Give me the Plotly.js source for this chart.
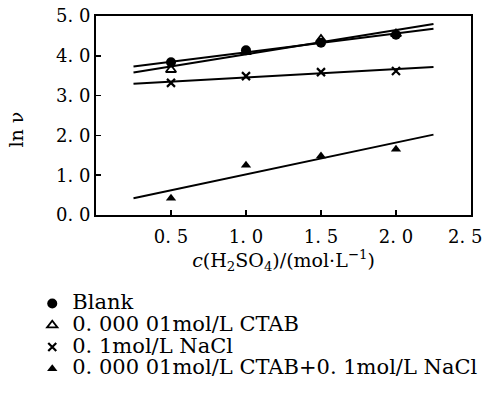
<!DOCTYPE html>
<html><head><meta charset="utf-8">
<script src="https://cdn.plot.ly/plotly-3.0.1.min.js"></script>
<style>html,body{margin:0;padding:0;background:#fff}</style>
</head><body><div id="chart" style="width:487px;height:397px"></div>
<script>
// H2SO4 concentration (mol/L) and measured ln(v) for each solution
const conc = [0.5, 1.0, 1.5, 2.0];
const lnvBlank = [3.84, 4.14, 4.33, 4.53];
const lnvCtab = [3.65, 4.10, 4.41, 4.55];
const lnvNacl = [3.32, 3.49, 3.59, 3.62];
const lnvCtabNacl = [0.42, 1.25, 1.48, 1.65];

// straight-line fits, drawn between c = 0.25 and c = 2.25
const fitConc = [0.25, 2.25];
const fitBlank = [3.73, 4.68];
const fitCtab = [3.58, 4.80];
const fitNacl = [3.30, 3.72];
const fitCtabNacl = [0.42, 2.02];

const seriesNames = ['Blank', '0. 000 01mol/L CTAB', '0. 1mol/L NaCl', '0. 000 01mol/L CTAB+0. 1mol/L NaCl'];
const xTickVals = [0.5, 1.0, 1.5, 2.0, 2.5];
const xTickText = ['0. 5', '1. 0', '1. 5', '2. 0', '2. 5'];
const yTickVals = [0, 1, 2, 3, 4, 5];
const yTickText = ['0. 0', '1. 0', '2. 0', '3. 0', '4. 0', '5. 0'];

const FONT = 'DejaVu Serif, Liberation Serif, serif';
const big = s => '<span style="font-size:21px">' + s + '</span>';

const fitLine = (y) => ({
  x: fitConc, y: y, mode: 'lines', showlegend: false, hoverinfo: 'skip',
  line: {color: '#000', width: 2}
});

const pts = (y, name, symbol, size, lw) => ({
  x: conc, y: y, mode: 'markers', name: big(name),
  marker: {symbol: symbol, size: size, color: '#000', line: {color: '#000', width: lw}}
});

const data = [
  fitLine(fitBlank), fitLine(fitCtab), fitLine(fitNacl), fitLine(fitCtabNacl),
  pts(lnvBlank, seriesNames[0], 'circle', 10, 0),
  pts(lnvCtab, seriesNames[1], 'triangle-up-open', 9, 1.8),
  pts(lnvNacl, seriesNames[2], 'x-thin-open', 8, 2.2),
  pts(lnvCtabNacl, seriesNames[3], 'triangle-up', 9, 0)
];

const lastX = xTickVals.length - 1;

const layout = {
  width: 487, height: 397,
  margin: {l: 96, r: 16, t: 16, b: 178},
  paper_bgcolor: '#fff', plot_bgcolor: '#fff',
  font: {family: FONT, color: '#000', size: 18},
  showlegend: true,
  legend: {
    x: -0.17, y: -0.365, xanchor: 'left', yanchor: 'top',
    font: {family: FONT, size: 14.4, color: '#000'},
    bgcolor: 'rgba(0,0,0,0)', borderwidth: 0, itemwidth: 30
  },
  xaxis: {
    range: [0, 2.5001], tickvals: xTickVals,
    // the end label is drawn separately, nudged left to stay on the page
    ticktext: xTickText.map((t, i) => i === lastX ? '' : t),
    ticks: 'inside', ticklen: 5, tickwidth: 1.5, tickcolor: '#000',
    showline: true, linecolor: '#000', linewidth: 2, mirror: true,
    showgrid: false, zeroline: false, ticklabelstandoff: 4,
    tickfont: {family: FONT, size: 18},
    title: {text: '<i>c</i>(H<sub>2</sub>SO<sub>4</sub>)/(mol·L<sup>−1</sup>)', font: {family: FONT, size: 19}, standoff: 7}
  },
  yaxis: {
    range: [0, 5.0001], tickvals: yTickVals, ticktext: yTickText,
    ticks: 'inside', ticklen: 5, tickwidth: 1.5, tickcolor: '#000',
    showline: true, linecolor: '#000', linewidth: 2, mirror: true,
    showgrid: false, zeroline: false,
    tickfont: {family: FONT, size: 18}
  },
  annotations: [{
    text: 'ln ν', textangle: -90, showarrow: false,
    xref: 'paper', yref: 'paper', x: -0.213, y: 0.43, xanchor: 'center', yanchor: 'middle',
    font: {family: FONT, size: 19, color: '#000'}
  }, {
    text: xTickText[lastX], showarrow: false,
    xref: 'x', yref: 'paper', x: xTickVals[lastX], y: 0,
    xanchor: 'center', yanchor: 'middle', xshift: -6, yshift: -21,
    font: {family: FONT, size: 18, color: '#000'}
  }]
};

Plotly.newPlot('chart', data, layout, {staticPlot: true, displayModeBar: false});
</script>
</body></html>
